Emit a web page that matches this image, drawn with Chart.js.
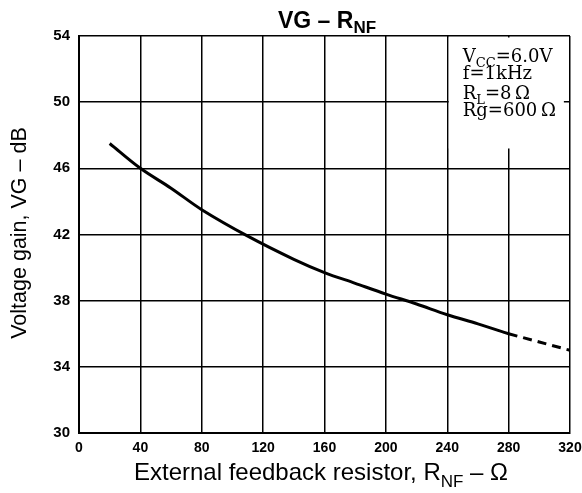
<!DOCTYPE html>
<html>
<head>
<meta charset="utf-8">
<script src="https://cdn.jsdelivr.net/npm/chart.js@4.4.1/dist/chart.umd.min.js"></script>
<style>
  body { margin: 0; background: #fff; }
  #wrap { width: 582px; height: 493px; }
</style>
</head>
<body>
<div id="wrap"><canvas id="vg-chart" width="582" height="493"></canvas></div>
<script>
// values (R_NF in ohms, gain in dB)
const solidR = [20, 40, 60, 80, 110, 140, 160, 180, 200, 220, 240, 260, 280];
const solidVG = [47.5, 46.0, 44.8, 43.5, 41.9, 40.5, 39.7, 39.05, 38.4, 37.8, 37.15, 36.6, 36.0];
const dashR = [280, 300, 320];
const dashVG = [36.0, 35.5, 35.0];
const xTicks = [0, 40, 80, 120, 160, 200, 240, 280, 320];
const yTicks = [30, 34, 38, 42, 46, 50, 54];
const conditions = [
    [{ t: 'V' }, { t: 'CC', sub: true }, { t: '=6.0V' }],
    [{ t: 'f=1kHz' }],
    [{ t: 'R' }, { t: 'L', sub: true }, { t: '=8\u2009\u03A9' }],
    [{ t: 'Rg=600\u2009\u03A9' }]
];

function toPoints(xs, ys) {
    return xs.map((x, i) => ({ x: x, y: ys[i] }));
}

// draw a run of text pieces, some of them as subscripts
function drawRuns(ctx, runs, x, y, size, family, weight, align, subDrop = 0.3) {
    const subSize = Math.round(size * 0.72);
    const fontOf = r => weight + ' ' + (r.sub ? subSize : size) + 'px ' + family;
    let total = 0;
    runs.forEach(r => { ctx.font = fontOf(r); total += ctx.measureText(r.t).width; });
    let cx = align === 'center' ? x - total / 2 : x;
    ctx.textAlign = 'left';
    ctx.textBaseline = 'alphabetic';
    runs.forEach(r => {
        ctx.font = fontOf(r);
        ctx.fillText(r.t, cx, r.sub ? y + size * subDrop : y);
        cx += ctx.measureText(r.t).width;
    });
}

const labelsPlugin = {
    id: 'labelsPlugin',
    beforeDatasetsDraw(chart) {
        const ctx = chart.ctx;
        const xs = chart.scales.x, ys = chart.scales.y;
        // white panel holding the test conditions
        const left = xs.getPixelForValue(241);
        const right = xs.getPixelForValue(316);
        const top = ys.getPixelForValue(54) + 1.5;
        const bottom = ys.getPixelForValue(47.2);
        ctx.save();
        ctx.fillStyle = '#fff';
        ctx.fillRect(left, top, right - left, bottom - top);
        ctx.fillStyle = '#000';
        const baselines = [62, 79, 99, 116];
        conditions.forEach((line, i) => {
            drawRuns(ctx, line, left + 14, baselines[i], 18, '"DejaVu Serif", serif', 'normal', 'left');
        });
        ctx.restore();
    },
    afterDraw(chart) {
        const ctx = chart.ctx;
        ctx.save();
        ctx.fillStyle = '#000';
        drawRuns(ctx, [{ t: 'VG \u2013 R' }, { t: 'NF', sub: true }], 327, 28, 23, '"Liberation Sans", Arial', 'bold', 'center', 0.2);
        drawRuns(ctx, [{ t: 'External feedback resistor, R' }, { t: 'NF', sub: true }, { t: ' \u2013 \u03A9' }], 321, 480, 24, '"Liberation Sans", Arial', 'normal', 'center');
        ctx.translate(25.5, 233);
        ctx.rotate(-Math.PI / 2);
        drawRuns(ctx, [{ t: 'Voltage gain, VG \u2013 dB' }], 0, 0, 21.5, '"Liberation Sans", Arial', 'normal', 'center');
        ctx.restore();
    }
};

document.addEventListener('DOMContentLoaded', () => {
    const ctx = document.getElementById('vg-chart').getContext('2d');
    const yTickFont = { family: '"Liberation Sans", Arial', size: 15, weight: 'bold' };
    const xTickFont = { family: '"Liberation Sans", Arial', size: 14, weight: 'bold' };

    new Chart(ctx, {
        type: 'line',
        data: {
            datasets: [{
                data: toPoints(solidR, solidVG),
                borderColor: '#000',
                borderWidth: 3,
                tension: 0.35,
                pointRadius: 0
            }, {
                data: toPoints(dashR, dashVG),
                borderColor: '#000',
                borderWidth: 3,
                borderDash: [9, 6],
                tension: 0,
                pointRadius: 0
            }]
        },
        options: {
            responsive: false,
            animation: false,
            events: [],
            layout: { padding: { top: 36, right: 12, left: 0, bottom: 0 } },
            plugins: {
                legend: { display: false },
                tooltip: { enabled: false },
                title: { display: false }
            },
            scales: {
                x: {
                    type: 'linear',
                    min: 0,
                    max: 320,
                    afterFit: s => { s.height = 60; s.paddingLeft = 0; s.paddingRight = 0; },
                    afterBuildTicks: s => { s.ticks = xTicks.map(v => ({ value: v })); },
                    grid: { color: '#000', lineWidth: 1.5, drawTicks: false },
                    border: { color: '#000', width: 2 },
                    ticks: { color: '#000', font: xTickFont, padding: 7, maxRotation: 0 }
                },
                y: {
                    min: 30,
                    max: 54,
                    afterFit: s => { s.width = 79; s.paddingTop = 0; s.paddingBottom = 0; },
                    afterBuildTicks: s => { s.ticks = yTicks.map(v => ({ value: v })); },
                    grid: { color: '#000', lineWidth: 1.5, drawTicks: false },
                    border: { color: '#000', width: 2 },
                    ticks: { color: '#000', font: yTickFont, padding: 9 }
                }
            }
        },
        plugins: [labelsPlugin]
    });
});
</script>
</body>
</html>
